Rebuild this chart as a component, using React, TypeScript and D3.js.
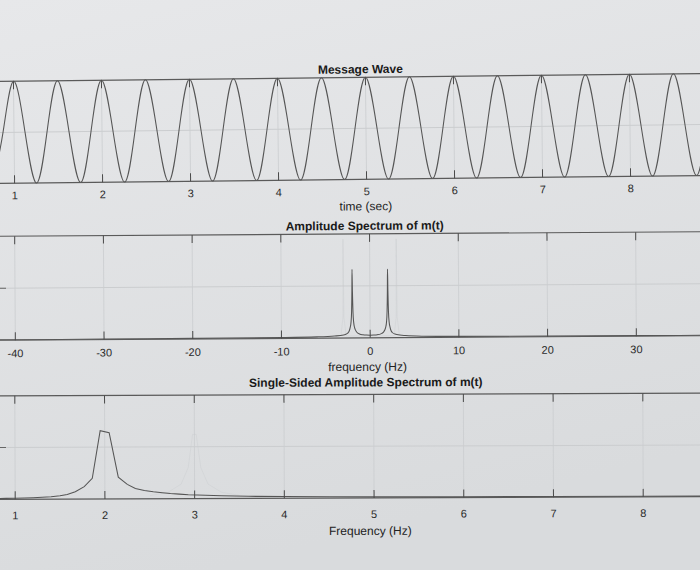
import React from 'react';
import * as d3 from 'd3';

// ---------- Panel 1: Message Wave ----------
const waveTime = [
  0.75, 0.875, 1, 1.125, 1.25, 1.375, 1.5, 1.625, 1.75, 1.875, 2, 2.125, 2.25, 2.375, 2.5, 2.625,
  2.75, 2.875, 3, 3.125, 3.25, 3.375, 3.5, 3.625, 3.75, 3.875, 4, 4.125, 4.25, 4.375, 4.5, 4.625,
  4.75, 4.875, 5, 5.125, 5.25, 5.375, 5.5, 5.625, 5.75, 5.875, 6, 6.125, 6.25, 6.375, 6.5, 6.625,
  6.75, 6.875, 7, 7.125, 7.25, 7.375, 7.5, 7.625, 7.75, 7.875, 8, 8.125, 8.25, 8.375, 8.5, 8.625,
  8.75, 8.875,
];
const waveValue = [
  -1, 0, 1, 0, -1, 0, 1, 0, -1, 0, 1, 0, -1, 0, 1, 0,
  -1, 0, 1, 0, -1, 0, 1, 0, -1, 0, 1, 0, -1, 0, 1, 0,
  -1, 0, 1, 0, -1, 0, 1, 0, -1, 0, 1, 0, -1, 0, 1, 0,
  -1, 0, 1, 0, -1, 0, 1, 0, -1, 0, 1, 0, -1, 0, 1, 0,
  -1, 0,
];
const waveTicks = [1, 2, 3, 4, 5, 6, 7, 8];

// ---------- Panel 2: Amplitude Spectrum ----------
const specFreq = [
  -45, -40, -30, -20, -10, -6, -4, -3, -2.8, -2.5, -2.35, -2.25, -2.15, -2.08, -2.03, -2,
  -1.97, -1.92, -1.85, -1.75, -1.65, -1.5, -1.2, -0.8, -0.4, 0, 0.4, 0.8, 1.2, 1.5, 1.65,
  1.75, 1.85, 1.92, 1.97, 2, 2.03, 2.08, 2.15, 2.25, 2.35, 2.5, 2.8, 3, 4, 6, 10, 20, 30, 40, 45,
];
const specAmp = [
  0.004, 0.004, 0.005, 0.006, 0.009, 0.013, 0.02, 0.03, 0.035, 0.05, 0.07, 0.1, 0.15, 0.25, 0.45, 0.66,
  0.45, 0.25, 0.15, 0.1, 0.075, 0.055, 0.038, 0.03, 0.027, 0.026, 0.027, 0.03, 0.038, 0.055, 0.075,
  0.1, 0.15, 0.25, 0.45, 0.66, 0.45, 0.25, 0.15, 0.1, 0.07, 0.05, 0.035, 0.03, 0.02, 0.013, 0.009, 0.006, 0.005, 0.004, 0.004,
];
const specGhostFreq = [-3.3, -3.05, -3, -2.95, -2.7, 2.7, 2.95, 3, 3.05, 3.3];
const specGhostAmp = [0.02, 0.2, 0.95, 0.2, 0.02, 0.02, 0.2, 0.95, 0.2, 0.02];
const specTicks = [-40, -30, -20, -10, 0, 10, 20, 30];

// ---------- Panel 3: Single-Sided Amplitude Spectrum ----------
const ssFreq = [
  0.8, 0.9, 1.0, 1.1, 1.2, 1.3, 1.4, 1.5, 1.58, 1.67, 1.77, 1.86, 1.95, 2.05, 2.15, 2.25, 2.34,
  2.44, 2.54, 2.64, 2.73, 2.83, 2.93, 3.03, 3.3, 3.6, 4, 4.5, 5, 6, 7, 8, 9,
];
const ssAmp = [
  0.008, 0.009, 0.01, 0.012, 0.015, 0.019, 0.024, 0.032, 0.045, 0.07, 0.12, 0.2, 0.66, 0.64, 0.21, 0.14, 0.1,
  0.08, 0.068, 0.058, 0.05, 0.044, 0.038, 0.034, 0.026, 0.02, 0.016, 0.012, 0.01, 0.008, 0.007, 0.006, 0.006,
];
const ssGhostFreq = [2.5, 2.7, 2.85, 2.93, 2.98, 3.02, 3.07, 3.15, 3.3, 3.5];
const ssGhostAmp = [0.03, 0.06, 0.14, 0.3, 0.62, 0.62, 0.3, 0.14, 0.06, 0.03];
const ssTicks = [1, 2, 3, 4, 5, 6, 7, 8];

const FONT = '"Liberation Sans", Arial, Helvetica, sans-serif';
const AX = '#5a5a5a';
const GRID = '#cbcdcf';

type PanelProps = {
  xs: number[];
  ys: number[];
  gx?: number[];
  gy?: number[];
  xDom: [number, number];
  xRng: [number, number];
  yDom: [number, number];
  top: number;
  bottom: number;
  ticks: number[];
  yTicks: number[];
  leftTicks: boolean;
  title: string;
  titleX: number;
  titleDy: number;
  xlabel: string;
  labelX: number;
  tickDy: number;
  labelDy: number;
  angle: number;
  curve: d3.CurveFactory;
};

function Panel(p: PanelProps) {
  const x = d3.scaleLinear().domain(p.xDom).range(p.xRng);
  const y = d3.scaleLinear().domain(p.yDom).range([p.bottom, p.top]);
  const line = d3
    .line<number>()
    .x((_, i) => x(p.xs[i]))
    .y((d) => y(d))
    .curve(p.curve);
  const gline = d3
    .line<number>()
    .x((_, i) => x((p.gx as number[])[i]))
    .y((d) => y(d))
    .curve(d3.curveLinear);
  const cy = (p.top + p.bottom) / 2;
  const L = -20;
  const R = 720;
  return (
    <g transform={`rotate(${p.angle}, 350, ${cy})`}>
      {p.ticks.map((t) => (
        <line key={'g' + t} x1={x(t)} x2={x(t)} y1={p.top} y2={p.bottom} stroke={GRID} strokeWidth={0.8} />
      ))}
      {p.yTicks.map((t) => (
        <line key={'gy' + t} x1={L} x2={R} y1={y(t)} y2={y(t)} stroke={GRID} strokeWidth={1} />
      ))}
      {p.gx && p.gy && (
        <path d={gline(p.gy) || ''} fill="none" stroke="#c8cacc" strokeWidth={0.8} opacity={0.45} />
      )}
      <path d={line(p.ys) || ''} fill="none" stroke="#555" strokeWidth={1.05} />
      <line x1={L} x2={R} y1={p.top} y2={p.top} stroke={AX} strokeWidth={1.2} />
      <line x1={L} x2={R} y1={p.bottom} y2={p.bottom} stroke={AX} strokeWidth={1.2} />
      {p.ticks.map((t) => (
        <g key={'t' + t}>
          <line x1={x(t)} x2={x(t)} y1={p.top} y2={p.top + 8} stroke="#4a4a4a" strokeWidth={1} />
          <line x1={x(t)} x2={x(t)} y1={p.bottom} y2={p.bottom - 8} stroke="#4a4a4a" strokeWidth={1} />
          <text
            x={x(t)}
            y={p.bottom + p.tickDy}
            textAnchor="middle"
            fontFamily={FONT}
            fontSize={11}
            fill="#2a2a2a"
          >
            {t}
          </text>
        </g>
      ))}
      {p.leftTicks &&
        p.yTicks.map((t) => (
          <line key={'yt' + t} x1={-2} x2={6} y1={y(t)} y2={y(t)} stroke="#666" strokeWidth={1} />
        ))}
      <text x={p.labelX} y={p.bottom + p.labelDy} textAnchor="middle" fontFamily={FONT} fontSize={12} fill="#222">
        {p.xlabel}
      </text>
      <text
        x={p.titleX}
        y={p.top + p.titleDy}
        textAnchor="middle"
        fontFamily={FONT}
        fontSize={12}
        fontWeight="bold"
        fill="#1a1a1a"
      >
        {p.title}
      </text>
    </g>
  );
}

export default function App() {
  return (
    <svg
      width={700}
      height={570}
      style={{ position: 'absolute', left: 0, top: 0, display: 'block' }}
      xmlns="http://www.w3.org/2000/svg"
    >
      <defs>
        <linearGradient id="bg" x1="0" y1="0" x2="0.3" y2="1">
          <stop offset="0" stopColor="#e7e8ea" />
          <stop offset="1" stopColor="#d9dbdd" />
        </linearGradient>
      </defs>
      <rect x={0} y={0} width={700} height={570} fill="url(#bg)" />
      <Panel
        xs={waveTime}
        ys={waveValue}
        xDom={[1, 8]}
        xRng={[14, 630]}
        yDom={[-1, 1]}
        top={77.5}
        bottom={179.5}
        ticks={waveTicks}
        yTicks={[0]}
        leftTicks={false}
        title="Message Wave"
        titleX={361}
        titleDy={-4}
        xlabel="time (sec)"
        labelX={365}
        tickDy={16}
        labelDy={31}
        angle={-0.65}
        curve={d3.curveNatural}
      />
      <Panel
        xs={specFreq}
        ys={specAmp}
        gx={specGhostFreq}
        gy={specGhostAmp}
        xDom={[-40, 30]}
        xRng={[15, 636]}
        yDom={[0, 1]}
        top={234}
        bottom={338}
        ticks={specTicks}
        yTicks={[0.5]}
        leftTicks={true}
        title="Amplitude Spectrum of m(t)"
        titleX={365}
        titleDy={-4}
        xlabel="frequency (Hz)"
        labelX={367}
        tickDy={17}
        labelDy={33}
        angle={-0.37}
        curve={d3.curveMonotoneX}
      />
      <Panel
        xs={ssFreq}
        ys={ssAmp}
        gx={ssGhostFreq}
        gy={ssGhostAmp}
        xDom={[1, 8]}
        xRng={[15, 643]}
        yDom={[0, 1]}
        top={394.5}
        bottom={498}
        ticks={ssTicks}
        yTicks={[0.5]}
        leftTicks={true}
        title="Single-Sided Amplitude Spectrum of m(t)"
        titleX={366}
        titleDy={-8}
        xlabel="Frequency (Hz)"
        labelX={370}
        tickDy={20}
        labelDy={37}
        angle={-0.22}
        curve={d3.curveLinear}
      />
    </svg>
  );
}
